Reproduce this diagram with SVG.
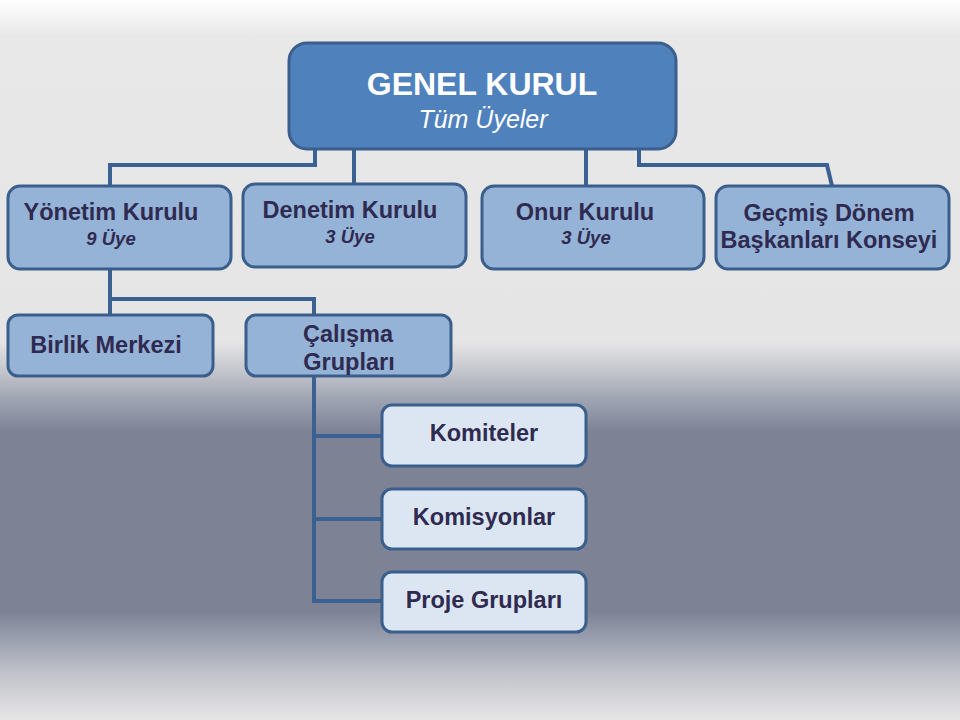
<svg xmlns="http://www.w3.org/2000/svg" width="960" height="720" viewBox="0 0 960 720">
<defs>
<linearGradient id="bg" x1="0" y1="0" x2="0" y2="1">
<stop offset="0" stop-color="#ffffff"/>
<stop offset="0.05" stop-color="#e8e8e8"/>
<stop offset="0.475" stop-color="#e5e5e5"/>
<stop offset="0.52" stop-color="#c0c2ca"/>
<stop offset="0.555" stop-color="#9ea4b2"/>
<stop offset="0.6" stop-color="#7d8295"/>
<stop offset="0.85" stop-color="#7d8295"/>
<stop offset="0.89" stop-color="#9ca2b1"/>
<stop offset="0.935" stop-color="#c1c2ca"/>
<stop offset="1" stop-color="#e6e6e6"/>
</linearGradient>
<style>
.box{stroke:#3b5f8c;stroke-width:3}
.top{fill:#4f81bd}
.mid{fill:#95b3d7}
.low{fill:#dce6f2}
.conn{fill:none;stroke:#3b6092;stroke-width:4;stroke-linejoin:miter}
.t{font-family:"Liberation Sans",Arial,sans-serif;font-weight:bold;font-size:23.5px;fill:#2f2a50;text-anchor:middle}
.s{font-family:"Liberation Sans",Arial,sans-serif;font-weight:bold;font-style:italic;font-size:18.5px;fill:#2f2a50;text-anchor:middle}
</style>
</defs>
<rect width="960" height="720" fill="url(#bg)"/>
<g id="connectors">
<polyline class="conn" points="315,149 315,165 110,165 110,186"/>
<polyline class="conn" points="354,149 354,185"/>
<polyline class="conn" points="586,149 586,186"/>
<polyline class="conn" points="639,149 639,165 827,165 832,186"/>
<polyline class="conn" points="110,269 110,315"/>
<polyline class="conn" points="110,299 314,299 314,315"/>
<polyline class="conn" points="314,376 314,601 383,601"/>
<polyline class="conn" points="314,436 383,436"/>
<polyline class="conn" points="314,519 383,519"/>
</g>
<g id="genel-kurul">
<rect class="box top" x="289" y="43" width="387" height="106" rx="18"/>
<text x="482" y="95" font-family="Liberation Sans,Arial,sans-serif" font-weight="bold" font-size="32" fill="#ffffff" text-anchor="middle">GENEL KURUL</text>
<text x="483" y="128" font-family="Liberation Sans,Arial,sans-serif" font-style="italic" font-size="25" fill="#ffffff" text-anchor="middle">Tüm Üyeler</text>
</g>
<g id="yonetim-kurulu">
<rect class="box mid" x="8" y="186" width="223" height="83" rx="12"/>
<text class="t" x="111" y="220">Yönetim Kurulu</text>
<text class="s" x="111" y="245">9 Üye</text>
</g>
<g id="denetim-kurulu">
<rect class="box mid" x="243" y="184" width="223" height="83" rx="12"/>
<text class="t" x="350" y="218">Denetim Kurulu</text>
<text class="s" x="350" y="243">3 Üye</text>
</g>
<g id="onur-kurulu">
<rect class="box mid" x="482" y="186" width="222" height="83" rx="12"/>
<text class="t" x="585" y="220">Onur Kurulu</text>
<text class="s" x="586" y="244">3 Üye</text>
</g>
<g id="gecmis-donem">
<rect class="box mid" x="716" y="186" width="233" height="83" rx="12"/>
<text class="t" x="829" y="221">Geçmiş Dönem</text>
<text class="t" x="829" y="248">Başkanları Konseyi</text>
</g>
<g id="birlik-merkezi">
<rect class="box mid" x="8" y="315" width="205" height="61" rx="10"/>
<text class="t" x="106" y="353">Birlik Merkezi</text>
</g>
<g id="calisma-gruplari">
<rect class="box mid" x="246" y="315" width="205" height="61" rx="10"/>
<text class="t" x="348" y="342">Çalışma</text>
<text class="t" x="349" y="370">Grupları</text>
</g>
<g id="komiteler">
<rect class="box low" x="382" y="405" width="204" height="61" rx="10"/>
<text class="t" x="484" y="441">Komiteler</text>
</g>
<g id="komisyonlar">
<rect class="box low" x="382" y="489" width="204" height="60" rx="10"/>
<text class="t" x="484" y="525">Komisyonlar</text>
</g>
<g id="proje-gruplari">
<rect class="box low" x="382" y="572" width="204" height="60" rx="10"/>
<text class="t" x="484" y="608">Proje Grupları</text>
</g>
</svg>
